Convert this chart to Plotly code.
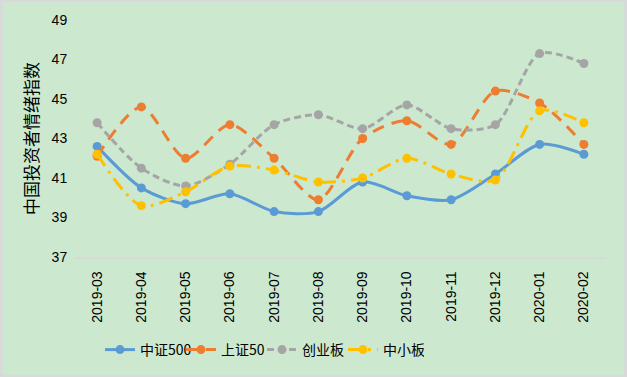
import plotly.graph_objects as go

months = ["2019-03", "2019-04", "2019-05", "2019-06", "2019-07", "2019-08",
          "2019-09", "2019-10", "2019-11", "2019-12", "2020-01", "2020-02"]
zz500 = [42.6, 40.5, 39.7, 40.2, 39.3, 39.3, 40.8, 40.1, 39.9, 41.2, 42.7, 42.2]
sz50 = [42.1, 44.6, 42.0, 43.7, 42.0, 39.9, 43.0, 43.9, 42.7, 45.4, 44.8, 42.7]
cyb = [43.8, 41.5, 40.6, 41.7, 43.7, 44.2, 43.5, 44.7, 43.5, 43.7, 47.3, 46.8]
zxb = [42.2, 39.6, 40.3, 41.6, 41.4, 40.8, 41.0, 42.0, 41.2, 40.9, 44.4, 43.8]
yticks = [37, 39, 41, 43, 45, 47, 49]

series = [
    ("中证500", zz500, "#5B9BD5", "solid"),
    ("上证50", sz50, "#ED7D31", "12px,8px"),
    ("创业板", cyb, "#A5A5A5", "7px,4px"),
    ("中小板", zxb, "#FFC000", "14px,6px,3px,6px"),
]

fig = go.Figure()
for name, vals, color, dash in series:
    fig.add_trace(go.Scatter(
        x=months, y=vals, name=name, mode="lines+markers",
        line=dict(color=color, width=3, dash=dash, shape="spline", smoothing=0.8),
        marker=dict(color=color, size=9),
    ))

W, H = 627, 377
ml, mr, mt, mb = 75, 21, 20, 120
pw, ph = W - ml - mr, H - mt - mb

fig.update_layout(
    width=W, height=H,
    margin=dict(l=ml, r=mr, t=mt, b=mb, autoexpand=False),
    paper_bgcolor="#CCE8CF",
    plot_bgcolor="#CCE8CF",
    font=dict(family="Liberation Sans, Noto Sans CJK SC, sans-serif", size=13, color="#000000"),
    showlegend=True,
    legend=dict(orientation="h", xref="container", yref="container",
                x=100 / W, xanchor="left", y=(H - 350) / H, yanchor="middle",
                font=dict(size=14, family="Noto Sans CJK SC, sans-serif"),
                bgcolor="rgba(0,0,0,0)", itemwidth=30, tracegroupgap=0,
                entrywidth=36),
    xaxis=dict(type="category", range=[-0.5, len(months) - 0.5], tickangle=-90,
               showgrid=False, showline=True,
               linecolor="#D9D9D9", linewidth=1.5, ticks="outside", ticklen=7,
               tickcolor="rgba(0,0,0,0)", zeroline=False, automargin=False,
               tickfont=dict(size=14)),
    yaxis=dict(range=[37, 49], tickvals=yticks, showgrid=False, showline=False,
               ticks="outside", ticklen=4, tickcolor="rgba(0,0,0,0)",
               zeroline=False, automargin=False, tickfont=dict(size=14),
               title=dict(text="中国投资者情绪指数", standoff=8,
                          font=dict(size=17, family="Noto Sans CJK SC, sans-serif"))),
    shapes=[dict(type="rect", xref="paper", yref="paper",
                 x0=-ml / pw + 0.002, x1=1 + mr / pw - 0.002,
                 y0=-mb / ph + 0.003, y1=1 + mt / ph - 0.003,
                 line=dict(color="#D9D9D9", width=3), fillcolor="rgba(0,0,0,0)",
                 layer="below")],
)

fig.write_html("out.html", config={"displayModeBar": False},
               post_script="document.body.style.margin='0px';")
